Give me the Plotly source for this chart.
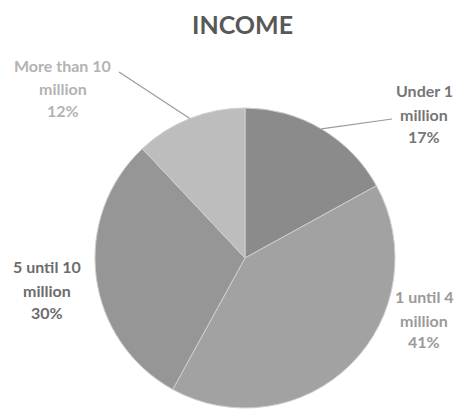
import math
import plotly.graph_objects as go

# Income brackets and their shares (%)
categories = ["Under 1 million", "1 until 4 million", "5 until 10 million", "More than 10 million"]
label_lines = [["Under 1", "million"], ["1 until 4", "million"], ["5 until 10", "million"], ["More than 10", "million"]]
shares = [17, 41, 30, 12]
slice_colors = ["#8b8b8b", "#a2a2a2", "#969696", "#bdbdbd"]
text_colors = ["#767676", "#9a9a9a", "#6c6c6c", "#b3b3b3"]

W, H = 458, 409
CX, CY, R = 245, 258, 150  # pie centre and radius in pixels

def px(x):
    return x / W

def py(y):
    return 1 - y / H

fig = go.Figure(go.Pie(
    labels=categories,
    values=shares,
    sort=False,
    direction="clockwise",
    rotation=0,
    textinfo="none",
    hoverinfo="label+percent",
    marker=dict(colors=slice_colors, line=dict(color="#cfcfcf", width=1)),
    domain=dict(x=[px(CX - R), px(CX + R)], y=[py(CY + R), py(CY - R)]),
    showlegend=False,
))

# label block positions: x centre and the y centre of each of the three lines
label_pos = [
    (424, [90, 114, 136]),
    (424, [296, 320, 341]),
    (47, [266, 290, 312]),
    (63, [65, 88, 111]),
]

annotations = [dict(
    text="<b>INCOME</b>", x=px(243), y=py(24), xref="paper", yref="paper",
    xanchor="center", yanchor="middle",
    showarrow=False, font=dict(family="Lato", size=25, color="#585858"),
)]
total = sum(shares)
for lines, share, col, (lx, ys) in zip(label_lines, shares, text_colors, label_pos):
    pct = round(100 * share / total)
    for txt, yy in zip(lines + [f"{pct}%"], ys):
        annotations.append(dict(
            text=f"<b>{txt}</b>", x=px(lx), y=py(yy), xref="paper", yref="paper",
            xanchor="center", yanchor="middle",
            showarrow=False, font=dict(family="Lato", size=16, color=col),
        ))

# leader lines from the mid-angle of the small slices to their labels
shapes = []
cum = 0
mids = []
for s in shares:
    mids.append((cum + s / 2) / total * 2 * math.pi)
    cum += s
leader_ends = {0: (392, 119), 3: (119, 72)}
for i, (ex, ey) in leader_ends.items():
    a = mids[i]
    sx, sy = CX + R * math.sin(a), CY - R * math.cos(a)
    shapes.append(dict(
        type="line", xref="paper", yref="paper",
        x0=px(sx), y0=py(sy), x1=px(ex), y1=py(ey),
        line=dict(color="#9a9a9a", width=1.2),
    ))

fig.update_layout(
    width=W, height=H,
    margin=dict(l=0, r=0, t=0, b=0),
    paper_bgcolor="white", plot_bgcolor="white",
    annotations=annotations, shapes=shapes,
)

fig.write_html("out.html")
